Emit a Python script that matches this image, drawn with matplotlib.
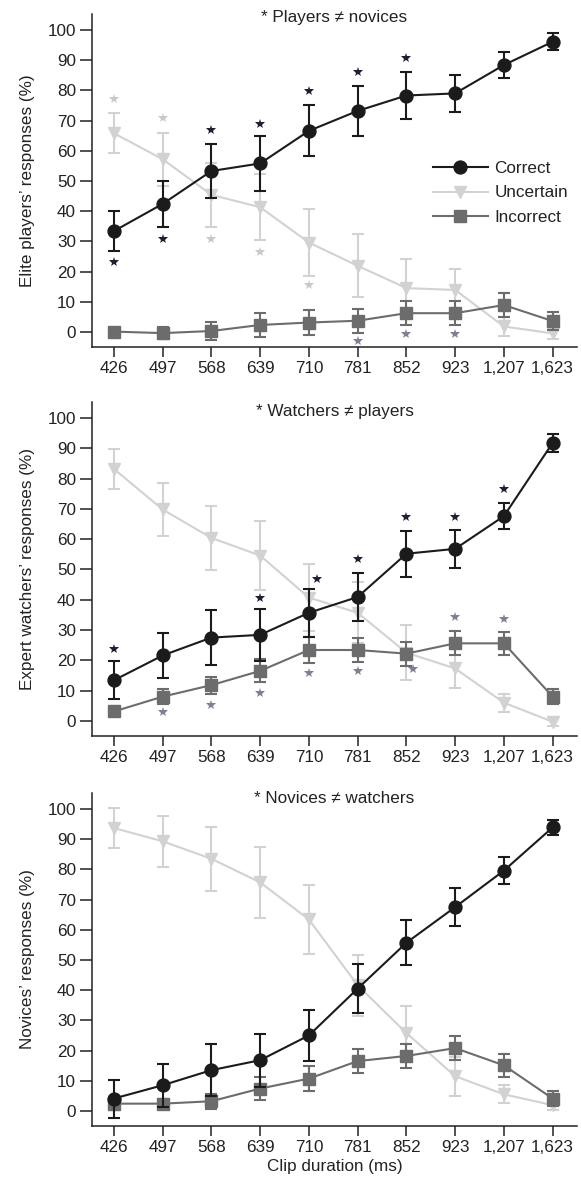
import matplotlib
matplotlib.use("Agg")
import matplotlib.pyplot as plt
from matplotlib.lines import Line2D
import numpy as np

# ---------------- data ----------------
durations = ["426", "497", "568", "639", "710", "781", "852", "923", "1,207", "1,623"]
series_names = ["Correct", "Uncertain", "Incorrect"]

# Panel 1: Elite players
p1_correct = [33.4, 42.4, 53.3, 55.8, 66.6, 73.2, 78.3, 79.0, 88.4, 96.1]
p1_correct_err = [6.5, 7.7, 9.0, 9.0, 8.5, 8.2, 7.7, 6.2, 4.4, 2.8]
p1_uncertain = [65.8, 57.2, 45.4, 41.3, 29.6, 21.9, 14.5, 13.9, 1.8, -0.5]
p1_uncertain_err = [6.6, 8.8, 10.5, 11.0, 11.2, 10.5, 9.5, 7.0, 3.0, 2.0]
p1_incorrect = [0.1, -0.4, 0.3, 2.3, 3.1, 3.7, 6.2, 6.2, 8.9, 3.6]
p1_incorrect_err = [1.0, 2.0, 3.0, 4.0, 4.0, 4.0, 4.0, 4.0, 4.0, 3.0]

# Panel 2: Expert watchers
p2_correct = [13.4, 21.6, 27.5, 28.4, 35.7, 40.9, 55.2, 56.8, 67.6, 91.8]
p2_correct_err = [6.3, 7.3, 9.0, 8.7, 8.0, 8.0, 7.6, 6.2, 4.4, 2.9]
p2_uncertain = [83.2, 69.8, 60.4, 54.6, 40.7, 35.7, 22.5, 17.3, 6.0, -0.3]
p2_uncertain_err = [6.6, 8.7, 10.5, 11.5, 11.0, 10.0, 9.0, 6.5, 3.0, 1.5]
p2_incorrect = [3.1, 8.0, 11.8, 16.5, 23.4, 23.4, 22.2, 25.6, 25.6, 8.0]
p2_incorrect_err = [1.5, 2.5, 2.8, 3.8, 4.2, 4.0, 4.0, 4.0, 3.8, 2.5]

# Panel 3: Novices
p3_correct = [4.1, 8.5, 13.5, 16.8, 25.0, 40.5, 55.7, 67.5, 79.6, 93.9]
p3_correct_err = [6.3, 7.2, 8.5, 8.8, 8.5, 8.0, 7.5, 6.4, 4.5, 2.6]
p3_uncertain = [93.7, 89.3, 83.5, 75.7, 63.4, 41.6, 25.8, 11.5, 5.5, 1.9]
p3_uncertain_err = [6.7, 8.5, 10.5, 11.7, 11.5, 10.0, 9.0, 6.5, 3.0, 1.5]
p3_incorrect = [2.4, 2.4, 3.2, 7.4, 10.7, 16.5, 18.2, 20.8, 15.1, 4.1]
p3_incorrect_err = [2.0, 1.5, 2.5, 3.8, 4.2, 4.0, 3.9, 4.0, 3.9, 2.5]

# significance stars: (category index, y value, series index)
p1_star_idx = [0, 1, 2, 3, 4, 5, 6, 0, 1, 2, 3, 4, 5, 6, 7]
p1_star_y = [23.3, 30.9, 66.9, 69.0, 79.9, 86.2, 90.8, 77.0, 70.7, 30.9, 26.6, 15.6, -2.9, -0.8, -0.8]
p1_star_series = [0, 0, 0, 0, 0, 0, 0, 1, 1, 1, 1, 1, 2, 2, 2]

p2_star_idx = [0, 3, 4.17, 5, 6, 7, 8, 1, 2, 3, 4, 5, 6.13, 7, 8]
p2_star_y = [23.8, 40.7, 46.9, 53.3, 67.3, 67.3, 76.7, 3.0, 5.2, 9.3, 15.7, 16.5, 17.0, 34.3, 33.7]
p2_star_series = [0, 0, 0, 0, 0, 0, 0, 2, 2, 2, 2, 2, 2, 2, 2]

p3_star_idx = []
p3_star_y = []
p3_star_series = []

panel_titles = ["* Players \u2260 novices", "* Watchers \u2260 players", "* Novices \u2260 watchers"]
ylabels = ["Elite players\u2019 responses (%)", "Expert watchers\u2019 responses (%)", "Novices\u2019 responses (%)"]
yticks = list(range(0, 101, 10))
xlabel = "Clip duration (ms)"

# ---------------- style ----------------
colors = ["#1b1b1b", "#d2d2d2", "#6c6c6c"]
star_colors = ["#1f1f33", "#c9c9c9", "#7c8294"]
markers = ["o", "v", "s"]
msizes = [9.3, 8.6, 8.3]
FONT = ["Liberation Sans", "DejaVu Sans"]
plt.rcParams["font.family"] = FONT
FS = 12.3
TXT = "#222222"

W, H = 581, 1183
fig = plt.figure(figsize=(W / 100, H / 100), dpi=100)

# panel boxes in pixels: (top, bottom)
boxes = [(14, 347), (402, 736), (793, 1126)]
left_px, right_px = 92, 577
title_y = [0.988, 0.971, 0.982]

panels = [
    (p1_correct, p1_correct_err, p1_uncertain, p1_uncertain_err, p1_incorrect, p1_incorrect_err,
     p1_star_idx, p1_star_y, p1_star_series),
    (p2_correct, p2_correct_err, p2_uncertain, p2_uncertain_err, p2_incorrect, p2_incorrect_err,
     p2_star_idx, p2_star_y, p2_star_series),
    (p3_correct, p3_correct_err, p3_uncertain, p3_uncertain_err, p3_incorrect, p3_incorrect_err,
     p3_star_idx, p3_star_y, p3_star_series),
]

x = np.arange(len(durations))

for k, (box, pdata) in enumerate(zip(boxes, panels)):
    top, bot = box
    ax = fig.add_axes([left_px / W, 1 - bot / H, (right_px - left_px) / W, (bot - top) / H])
    c, ce, u, ue, inc, ince, sidx, sy, sser = pdata
    vals = [c, u, inc]
    errs = [ce, ue, ince]
    zorders = [5, 3, 4]
    # draw uncertain first, then incorrect, then correct
    for s in [1, 2, 0]:
        ax.errorbar(x, vals[s], yerr=errs[s], color=colors[s], ecolor=colors[s],
                    marker=markers[s], markersize=msizes[s], markeredgecolor=colors[s],
                    markerfacecolor=colors[s],
                    linewidth=1.5, elinewidth=1.5, capsize=4.0, capthick=1.5,
                    zorder=zorders[s])
    for xi, yi, si in zip(sidx, sy, sser):
        ax.plot([xi], [yi], marker="*", markersize=7, color=star_colors[si],
                markeredgewidth=0, linestyle="none", zorder=6)

    ax.set_xlim(-0.45, 9.5)
    ax.set_ylim(-5, 105.3)
    ax.set_xticks(x)
    ax.set_xticklabels(durations)
    ax.set_yticks(yticks)
    ax.spines["top"].set_visible(False)
    ax.spines["right"].set_visible(False)
    for sp in ["left", "bottom"]:
        ax.spines[sp].set_linewidth(1.1)
        ax.spines[sp].set_color(TXT)
    ax.tick_params(axis="y", direction="out", length=8.5, width=1.1, pad=3,
                   labelsize=FS, colors=TXT)
    ax.tick_params(axis="x", direction="out", length=7, width=1.1, pad=3,
                   labelsize=FS, colors=TXT)
    ax.set_ylabel(ylabels[k], fontsize=FS, color=TXT, labelpad=9)
    ax.text(0.5, title_y[k], panel_titles[k], transform=ax.transAxes,
            ha="center", va="center", fontsize=FS, color=TXT)
    if k == 2:
        ax.set_xlabel(xlabel, fontsize=FS, color=TXT, labelpad=3)
    if k == 0:
        handles = [Line2D([], [], color=colors[s], marker=markers[s], markersize=msizes[s],
                          markeredgecolor=colors[s], linewidth=1.5) for s in range(3)]
        ax.legend(handles, series_names, loc="center left", bbox_to_anchor=(0.703, 0.4625),
                  frameon=False, fontsize=FS, handlelength=3.2, handletextpad=0.4,
                  borderpad=0, borderaxespad=0, labelspacing=0.55,
                  labelcolor=TXT)

fig.savefig("out.png", dpi=100)
